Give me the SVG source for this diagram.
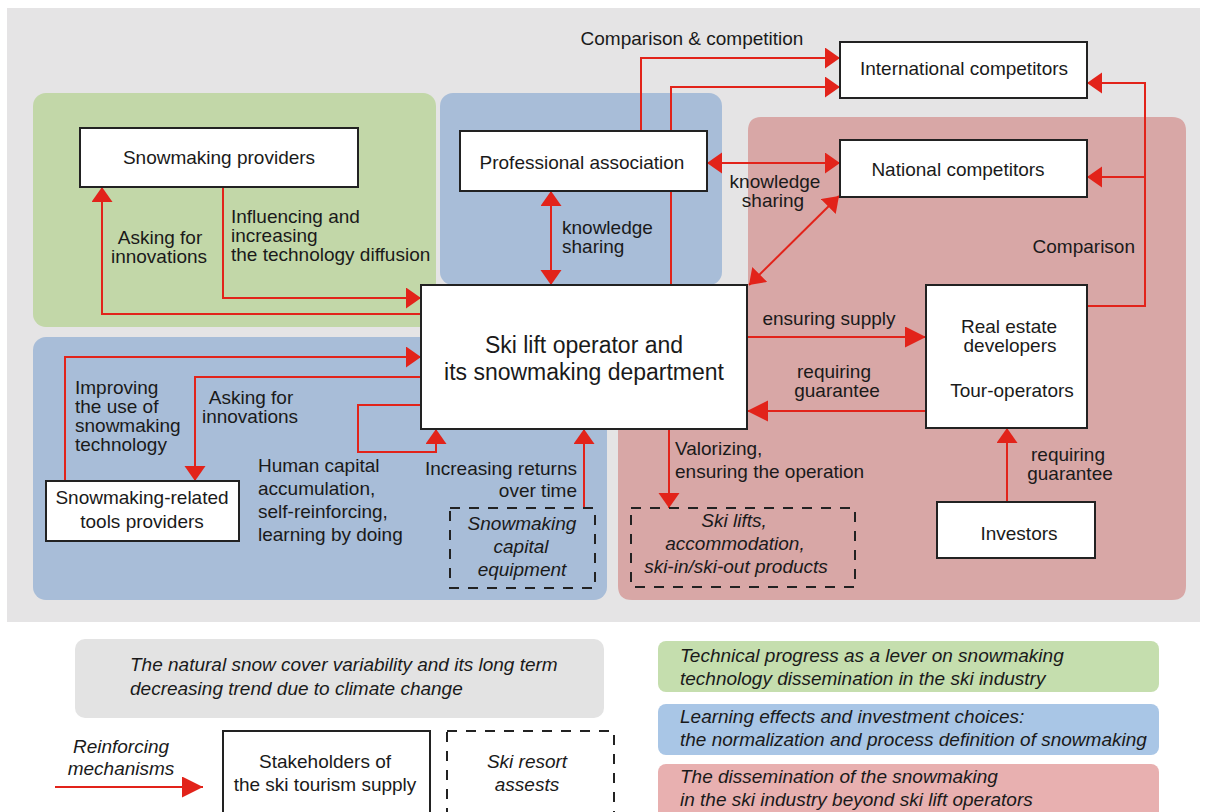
<svg xmlns="http://www.w3.org/2000/svg" width="1206" height="812" viewBox="0 0 1206 812">
<style>
text{font-family:"Liberation Sans",Arial,sans-serif;font-size:19px;fill:#1a1a1a}
.c{text-anchor:middle}
.e{text-anchor:end}
.i{font-style:italic}
.big{font-size:23px}
.node{fill:#fff;stroke:#222;stroke-width:2}
.dash{fill:none;stroke:#222;stroke-width:2;stroke-dasharray:10 9}
.con{fill:none;stroke:#e2231a;stroke-width:2}
.ar{marker-end:url(#a)}
.arb{marker-end:url(#b)}
.both{marker-start:url(#a);marker-end:url(#a)}
</style>
<defs>
<marker id="a" markerUnits="userSpaceOnUse" markerWidth="16" markerHeight="22" refX="15" refY="10.5" orient="auto-start-reverse" viewBox="0 0 16 22">
<path d="M0,0 L15,10.5 L0,21 z" fill="#e2231a"/>
</marker>
<marker id="b" markerUnits="userSpaceOnUse" markerWidth="22" markerHeight="22" refX="21" refY="10.5" orient="auto-start-reverse" viewBox="0 0 22 22">
<path d="M0,0 L21,10.5 L0,21 z" fill="#e2231a"/>
</marker>
</defs>
<rect width="1206" height="812" fill="#fff"/>
<g id="panels">
<rect x="7" y="8" width="1193" height="614" fill="#e5e4e5"/>
<rect x="33" y="93" width="403" height="234" rx="13" fill="#c2d7a8"/>
<rect x="440" y="93" width="282" height="192" rx="13" fill="#a8bdd8"/>
<rect x="33" y="337" width="574" height="263" rx="13" fill="#a8bdd8"/>
<path d="M761,117 H1172 Q1186,117 1186,131 V586 Q1186,600 1172,600 H632 Q618,600 618,586 V400 H748 V131 Q748,117 761,117 Z" fill="#d8a7a6"/>
</g>
<g id="connectors">
<path class="con ar" d="M641,131 V58 H840"/>
<path class="con ar" d="M671,285 V87 H840"/>
<path class="con ar" d="M1087,306 H1145 V83 H1087"/>
<path class="con ar" d="M1145,177 H1087"/>
<path class="con both" d="M707,163 H840"/>
<path class="con both" d="M839,196 L749,285"/>
<path class="con both" d="M551,191 V285"/>
<path class="con ar" d="M223,187 V298 H421"/>
<path class="con ar" d="M421,314 H102 V187"/>
<path class="con ar" d="M65,481 V357 H421"/>
<path class="con ar" d="M421,377 H195 V481"/>
<path class="con ar" d="M421,405 H358 V452 H436 V429"/>
<path class="con ar" d="M584,508 V429"/>
<path class="con arb" d="M747,337 H926"/>
<path class="con arb" d="M926,411 H747"/>
<path class="con ar" d="M669,429 V508"/>
<path class="con ar" d="M1007,502 V428"/>
</g>
<g id="labels">
<text class="c" x="692" y="45">Comparison &amp; competition</text>
<text class="e" x="1135" y="253">Comparison</text>
<text class="c" x="775" y="188">knowledge</text>
<text class="c" x="773" y="207">sharing</text>
<text x="562" y="234">knowledge</text>
<text x="562" y="253">sharing</text>
<text x="231" y="223">Influencing and</text>
<text x="231" y="242">increasing</text>
<text x="231" y="261">the technology diffusion</text>
<text class="c" x="160" y="244">Asking for</text>
<text class="c" x="159" y="263">innovations</text>
<text x="75" y="394">Improving</text>
<text x="75" y="413">the use of</text>
<text x="75" y="432">snowmaking</text>
<text x="75" y="451">technology</text>
<text class="c" x="251" y="404">Asking for</text>
<text class="c" x="250" y="423">innovations</text>
<text x="258" y="472">Human capital</text>
<text x="258" y="495">accumulation,</text>
<text x="258" y="518">self-reinforcing,</text>
<text x="258" y="541">learning by doing</text>
<text class="e" x="577" y="475">Increasing returns</text>
<text class="e" x="577" y="497">over time</text>
<text class="c" x="829" y="325">ensuring supply</text>
<text class="c" x="834" y="378">requiring</text>
<text class="c" x="837" y="397">guarantee</text>
<text x="675" y="455">Valorizing,</text>
<text x="675" y="478">ensuring the operation</text>
<text class="c" x="1068" y="461">requiring</text>
<text class="c" x="1070" y="480">guarantee</text>
</g>
<g id="n-intl">
<rect class="node" x="840" y="42" width="247" height="56"/>
<text class="c" x="964" y="75">International competitors</text>
</g>
<g id="n-national">
<rect class="node" x="840" y="140" width="247" height="57"/>
<text class="c" x="958" y="176">National competitors</text>
</g>
<g id="n-prof">
<rect class="node" x="460" y="131" width="247" height="60"/>
<text class="c" x="582" y="169">Professional association</text>
</g>
<g id="n-providers">
<rect class="node" x="80" y="128" width="278" height="59"/>
<text class="c" x="219" y="164">Snowmaking providers</text>
</g>
<g id="n-skilift">
<rect class="node" x="421" y="285" width="326" height="144"/>
<text class="c big" x="584" y="353">Ski lift operator and</text>
<text class="c big" x="584" y="380">its snowmaking department</text>
</g>
<g id="n-realestate">
<rect class="node" x="926" y="285" width="161" height="143"/>
<text class="c" x="1009" y="333">Real estate</text>
<text class="c" x="1010" y="352">developers</text>
<text class="c" x="1012" y="397">Tour-operators</text>
</g>
<g id="n-investors">
<rect class="node" x="937" y="502" width="158" height="56"/>
<text class="c" x="1019" y="540">Investors</text>
</g>
<g id="n-tools">
<rect class="node" x="46" y="481" width="193" height="60"/>
<text class="c" x="142" y="504">Snowmaking-related</text>
<text class="c" x="142" y="528">tools providers</text>
</g>
<g id="n-capital">
<rect class="dash" x="450" y="508" width="145" height="80"/>
<text class="c i" x="522" y="530">Snowmaking</text>
<text class="c i" x="521" y="553">capital</text>
<text class="c i" x="522" y="576">equipment</text>
</g>
<g id="n-skilifts">
<rect class="dash" x="631" y="508" width="224" height="79"/>
<text class="c i" x="734" y="527">Ski lifts,</text>
<text class="c i" x="735" y="550">accommodation,</text>
<text class="c i" x="736" y="573">ski-in/ski-out products</text>
</g>
<g id="legend">
<rect x="75" y="639" width="529" height="79" rx="10" fill="#e3e3e3"/>
<text class="i" x="130" y="671">The natural snow cover variability and its long term</text>
<text class="i" x="130" y="695">decreasing trend due to climate change</text>
<rect x="658" y="641" width="501" height="51" rx="8" fill="#c5deae"/>
<text class="i" x="680" y="662">Technical progress as a lever on snowmaking</text>
<text class="i" x="680" y="685">technology dissemination in the ski industry</text>
<rect x="658" y="704" width="501" height="51" rx="8" fill="#a9c6e6"/>
<text class="i" x="680" y="723">Learning effects and investment choices:</text>
<text class="i" x="680" y="746">the normalization and process definition of snowmaking</text>
<rect x="658" y="764" width="501" height="60" rx="8" fill="#e8b0b0"/>
<text class="i" x="680" y="783">The dissemination of the snowmaking</text>
<text class="i" x="680" y="806">in the ski industry beyond ski lift operators</text>
<text class="c i" x="121" y="753">Reinforcing</text>
<text class="c i" x="121" y="775">mechanisms</text>
<path class="con arb" d="M55,787 H203"/>
<rect class="node" x="223" y="731" width="207" height="95"/>
<text class="c" x="325" y="768">Stakeholders of</text>
<text class="c" x="325" y="791">the ski tourism supply</text>
<rect class="dash" x="447" y="731" width="167" height="95"/>
<text class="c i" x="527" y="768">Ski resort</text>
<text class="c i" x="527" y="791">assests</text>
</g>
</svg>
